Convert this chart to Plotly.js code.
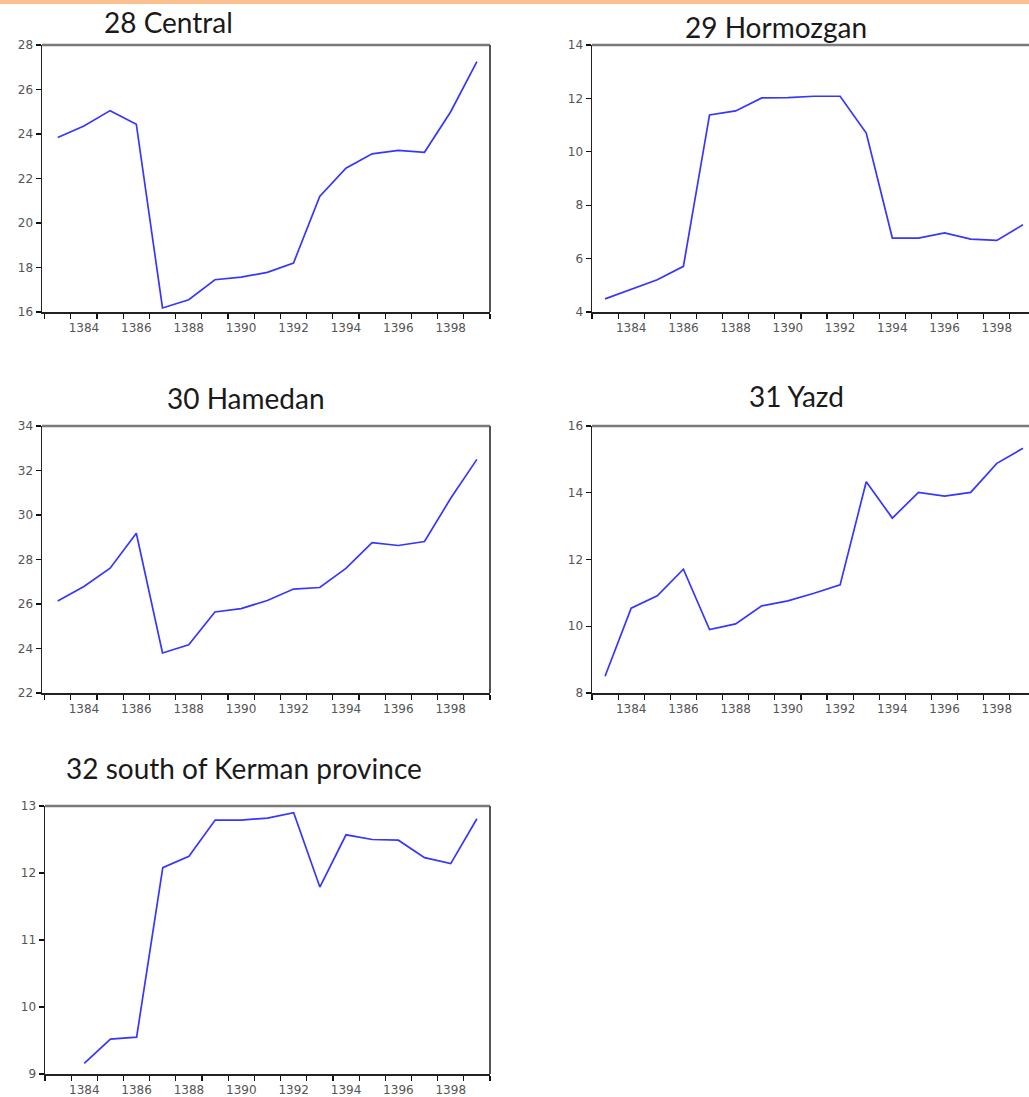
<!DOCTYPE html>
<html><head><meta charset="utf-8">
<script src="https://cdn.plot.ly/plotly-3.0.1.min.js"></script>
<style>html,body{margin:0;padding:0;overflow:hidden;background:#fff}#chart{width:1045px;height:1097px}</style>
</head><body><div id="chart"></div>
<script>
// ---- data ----
const years = [1383,1384,1385,1386,1387,1388,1389,1390,1391,1392,1393,1394,1395,1396,1397,1398,1399];
const yearsKerman = [1384,1385,1386,1387,1388,1389,1390,1391,1392,1393,1394,1395,1396,1397,1398,1399];
const central = [23.84,24.36,25.05,24.44,16.18,16.55,17.45,17.57,17.78,18.2,21.19,22.46,23.11,23.26,23.18,25.0,27.25];
const hormozgan = [4.49,4.84,5.21,5.71,11.38,11.53,12.02,12.03,12.08,12.08,10.7,6.77,6.77,6.96,6.73,6.68,7.27];
const hamedan = [26.14,26.79,27.61,29.18,23.8,24.17,25.64,25.79,26.16,26.67,26.74,27.6,28.76,28.63,28.81,30.75,32.5];
const yazd = [8.5,10.54,10.91,11.71,9.9,10.07,10.61,10.76,10.99,11.24,14.33,13.24,14.01,13.9,14.01,14.88,15.33];
const kermanSouth = [9.16,9.52,9.55,12.08,12.25,12.79,12.79,12.82,12.9,11.79,12.57,12.5,12.49,12.23,12.14,12.81];
const titles = ["28 Central","29 Hormozgan","30 Hamedan","31 Yazd","32 south of Kerman province"];
const xTickVals = [1384,1386,1388,1390,1392,1394,1396,1398];
const xTickLabels = ["1384","1386","1388","1390","1392","1394","1396","1398"];
const yRanges = [[16,28],[4,14],[22,34],[8,16],[9,13]];
const yDticks = [2,2,2,2,1];

// ---- layout ----
const W = 1045, H = 1097;
const boxes = [
  {l:42, r:490, t:45, b:312, x0:1382.4, tx:168, ty:22},
  {l:592, r:1036, t:45, b:312, x0:1382.5, tx:776, ty:27},
  {l:42, r:490, t:426, b:693, x0:1382.4, tx:246, ty:398},
  {l:592, r:1036, t:426, b:693, x0:1382.5, tx:796, ty:396},
  {l:45, r:490, t:806, b:1074, x0:1382.5, tx:244, ty:768}
];
const series = [[years,central],[years,hormozgan],[years,hamedan],[years,yazd],[yearsKerman,kermanSouth]];
const boundaries = years.map(v => v - 0.5).concat([years[years.length-1] + 0.5]);

const traces = [];
const layout = {
  width: W, height: H, margin:{l:0,r:0,t:0,b:0},
  paper_bgcolor:'#fff', plot_bgcolor:'#fff', showlegend:false,
  shapes: [], annotations: []
};
layout.shapes.push({type:'rect', xref:'paper', yref:'paper', x0:0, x1:1, y0:1-4/H, y1:1, fillcolor:'#FBC08E', line:{width:0}});

const tickFont = {family:'DejaVu Sans, Liberation Sans, sans-serif', size:12, color:'#555'};

series.forEach((s, i) => {
  const n = i + 1;
  const xa = 'x' + (n === 1 ? '' : n), ya = 'y' + (n === 1 ? '' : n);
  const b = boxes[i];
  traces.push({x:s[0], y:s[1], type:'scatter', mode:'lines', xaxis:xa, yaxis:ya,
    line:{color:'#3636ff', width:1.7}, hoverinfo:'x+y'});
  layout['xaxis' + (n === 1 ? '' : n)] = {
    domain:[b.l/W, b.r/W], anchor:ya, range:[b.x0, 1399.5],
    tickmode:'array', tickvals:xTickVals, ticktext:xTickLabels,
    ticks:'outside', ticklen:4, tickcolor:'rgba(0,0,0,0)',
    minor:{tickmode:'array', tickvals:boundaries, ticks:'outside', ticklen:5, tickcolor:'#111', tickwidth:1.2, showgrid:false},
    showline:true, linecolor:'#222', linewidth:1.5, mirror:false,
    showgrid:false, zeroline:false, fixedrange:true,
    tickfont:tickFont
  };
  layout['yaxis' + (n === 1 ? '' : n)] = {
    domain:[1 - b.b/H, 1 - b.t/H], anchor:xa, range:yRanges[i],
    tickmode:'linear', tick0:yRanges[i][0], dtick:yDticks[i],
    ticks:'outside', ticklen:5, tickcolor:'#111', tickwidth:1.2,
    showline:true, linecolor:'#222', linewidth:1.5, mirror:false,
    showgrid:false, zeroline:false, fixedrange:true,
    tickfont:tickFont
  };
  layout.shapes.push({type:'line', xref:xa + ' domain', yref:ya + ' domain', x0:0, x1:1, y0:1, y1:1, line:{color:'#7a7a7a', width:2.5}});
  layout.shapes.push({type:'line', xref:xa + ' domain', yref:ya + ' domain', x0:1, x1:1, y0:0, y1:1, line:{color:'#555', width:2}});
  layout.annotations.push({text:titles[i], xref:'paper', yref:'paper', x:b.tx/W, y:1 - b.ty/H,
    xanchor:'center', yanchor:'middle', showarrow:false,
    font:{family:'Lato, Open Sans, sans-serif', size:28, color:'#1a1a1a'}});
});

Plotly.newPlot('chart', traces, layout, {displayModeBar:false, staticPlot:true});
</script>
</body></html>
